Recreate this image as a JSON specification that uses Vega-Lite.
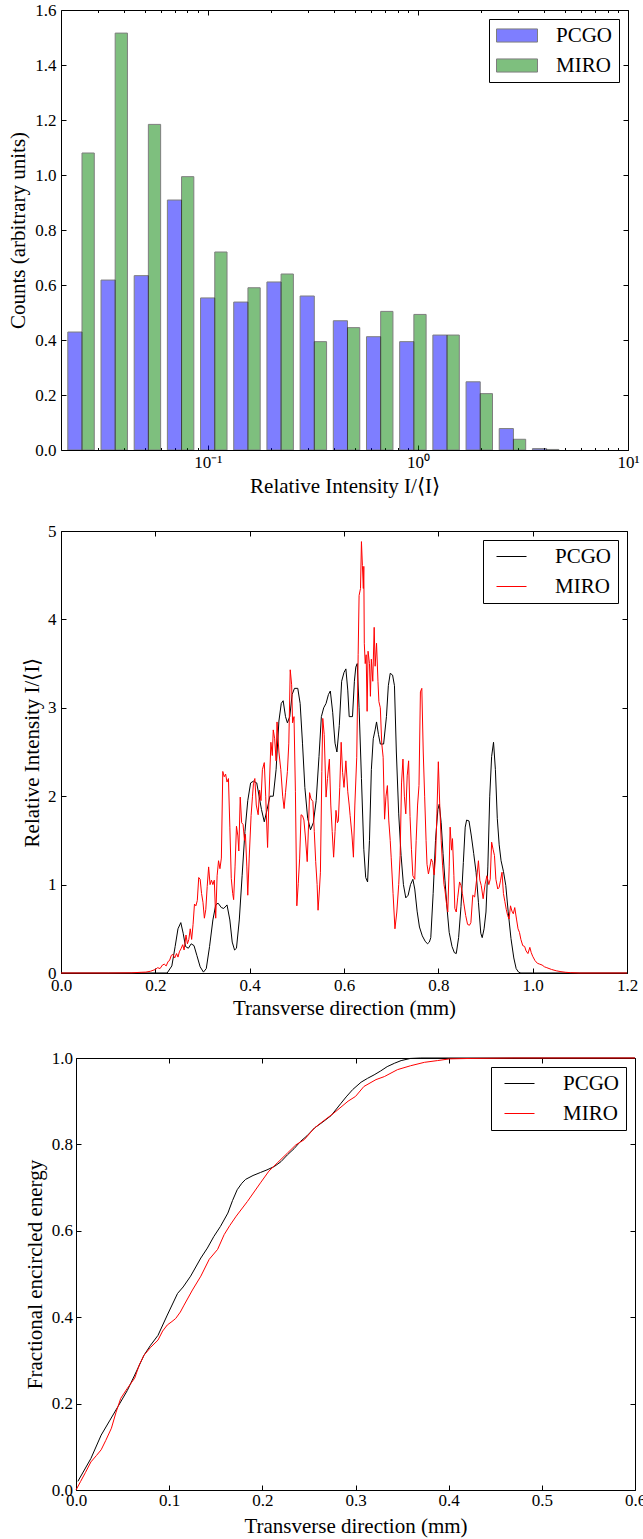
{
  "$schema": "https://vega.github.io/schema/vega-lite/v6.json",
  "padding": 0,
  "background": "white",
  "datasets": {
    "hist": [
      {"s":"PCGO","a":0.02155,"b":0.02518,"c":0.429},
      {"s":"PCGO","a":0.03101,"b":0.03622,"c":0.618},
      {"s":"PCGO","a":0.04461,"b":0.05211,"c":0.634},
      {"s":"PCGO","a":0.06418,"b":0.07497,"c":0.909},
      {"s":"PCGO","a":0.09233,"b":0.1079,"c":0.553},
      {"s":"PCGO","a":0.1328,"b":0.1552,"c":0.538},
      {"s":"PCGO","a":0.1911,"b":0.2232,"c":0.611},
      {"s":"PCGO","a":0.2750,"b":0.3212,"c":0.560},
      {"s":"PCGO","a":0.3956,"b":0.4621,"c":0.470},
      {"s":"PCGO","a":0.5691,"b":0.6648,"c":0.412},
      {"s":"PCGO","a":0.8188,"b":0.9565,"c":0.394},
      {"s":"PCGO","a":1.178,"b":1.376,"c":0.418},
      {"s":"PCGO","a":1.695,"b":1.980,"c":0.248},
      {"s":"PCGO","a":2.438,"b":2.848,"c":0.078},
      {"s":"PCGO","a":3.508,"b":4.098,"c":0.005},
      {"s":"MIRO","a":0.02518,"b":0.02880,"c":1.08},
      {"s":"MIRO","a":0.03622,"b":0.04143,"c":1.516},
      {"s":"MIRO","a":0.05211,"b":0.05961,"c":1.184},
      {"s":"MIRO","a":0.07497,"b":0.08576,"c":0.994},
      {"s":"MIRO","a":0.1079,"b":0.1234,"c":0.720},
      {"s":"MIRO","a":0.1552,"b":0.1775,"c":0.590},
      {"s":"MIRO","a":0.2232,"b":0.2554,"c":0.640},
      {"s":"MIRO","a":0.3212,"b":0.3674,"c":0.394},
      {"s":"MIRO","a":0.4621,"b":0.5286,"c":0.445},
      {"s":"MIRO","a":0.6648,"b":0.7605,"c":0.504},
      {"s":"MIRO","a":0.9565,"b":1.094,"c":0.493},
      {"s":"MIRO","a":1.376,"b":1.574,"c":0.418},
      {"s":"MIRO","a":1.980,"b":2.265,"c":0.205},
      {"s":"MIRO","a":2.848,"b":3.258,"c":0.039},
      {"s":"MIRO","a":4.098,"b":4.687,"c":0.002}
    ],
    "profile": [
      {"s":"PCGO","x":0,"v":0},{"s":"PCGO","x":0.1,"v":0},{"s":"PCGO","x":0.2,"v":0},{"s":"PCGO","x":0.225,"v":0},
      {"s":"PCGO","x":0.235,"v":0.08},{"s":"PCGO","x":0.242,"v":0.3},{"s":"PCGO","x":0.248,"v":0.5},{"s":"PCGO","x":0.254,"v":0.57},
      {"s":"PCGO","x":0.259,"v":0.45},{"s":"PCGO","x":0.264,"v":0.3},{"s":"PCGO","x":0.27,"v":0.28},{"s":"PCGO","x":0.276,"v":0.33},
      {"s":"PCGO","x":0.282,"v":0.31},{"s":"PCGO","x":0.288,"v":0.2},{"s":"PCGO","x":0.295,"v":0.07},{"s":"PCGO","x":0.302,"v":0.01},
      {"s":"PCGO","x":0.308,"v":0.05},{"s":"PCGO","x":0.315,"v":0.3},{"s":"PCGO","x":0.322,"v":0.6},{"s":"PCGO","x":0.328,"v":0.77},
      {"s":"PCGO","x":0.333,"v":0.79},{"s":"PCGO","x":0.34,"v":0.74},{"s":"PCGO","x":0.345,"v":0.73},{"s":"PCGO","x":0.352,"v":0.77},
      {"s":"PCGO","x":0.358,"v":0.6},{"s":"PCGO","x":0.363,"v":0.35},{"s":"PCGO","x":0.368,"v":0.26},{"s":"PCGO","x":0.372,"v":0.28},
      {"s":"PCGO","x":0.378,"v":0.6},{"s":"PCGO","x":0.384,"v":1.1},{"s":"PCGO","x":0.39,"v":1.6},{"s":"PCGO","x":0.396,"v":1.95},
      {"s":"PCGO","x":0.402,"v":2.15},{"s":"PCGO","x":0.408,"v":2.17},{"s":"PCGO","x":0.415,"v":2.15},{"s":"PCGO","x":0.42,"v":2.0},
      {"s":"PCGO","x":0.425,"v":1.85},{"s":"PCGO","x":0.431,"v":1.71},{"s":"PCGO","x":0.437,"v":1.85},{"s":"PCGO","x":0.443,"v":2.0},
      {"s":"PCGO","x":0.45,"v":2.0},{"s":"PCGO","x":0.456,"v":2.3},{"s":"PCGO","x":0.462,"v":2.85},{"s":"PCGO","x":0.467,"v":3.05},
      {"s":"PCGO","x":0.471,"v":3.08},{"s":"PCGO","x":0.476,"v":2.9},{"s":"PCGO","x":0.48,"v":2.83},{"s":"PCGO","x":0.485,"v":2.9},
      {"s":"PCGO","x":0.49,"v":3.15},{"s":"PCGO","x":0.495,"v":3.22},{"s":"PCGO","x":0.502,"v":3.22},{"s":"PCGO","x":0.507,"v":3.05},
      {"s":"PCGO","x":0.512,"v":2.6},{"s":"PCGO","x":0.517,"v":2.1},{"s":"PCGO","x":0.523,"v":1.75},{"s":"PCGO","x":0.529,"v":1.62},
      {"s":"PCGO","x":0.535,"v":1.7},{"s":"PCGO","x":0.541,"v":1.95},{"s":"PCGO","x":0.547,"v":2.45},{"s":"PCGO","x":0.552,"v":2.9},
      {"s":"PCGO","x":0.557,"v":3.0},{"s":"PCGO","x":0.562,"v":3.05},{"s":"PCGO","x":0.567,"v":3.15},{"s":"PCGO","x":0.571,"v":3.19},
      {"s":"PCGO","x":0.576,"v":2.95},{"s":"PCGO","x":0.581,"v":2.6},{"s":"PCGO","x":0.585,"v":2.5},{"s":"PCGO","x":0.59,"v":2.8},
      {"s":"PCGO","x":0.595,"v":3.3},{"s":"PCGO","x":0.6,"v":3.4},{"s":"PCGO","x":0.604,"v":3.44},{"s":"PCGO","x":0.608,"v":3.2},
      {"s":"PCGO","x":0.611,"v":2.9},{"s":"PCGO","x":0.618,"v":2.9},{"s":"PCGO","x":0.622,"v":3.3},{"s":"PCGO","x":0.625,"v":3.46},
      {"s":"PCGO","x":0.628,"v":3.5},{"s":"PCGO","x":0.632,"v":3.0},{"s":"PCGO","x":0.637,"v":2.2},{"s":"PCGO","x":0.642,"v":1.4},
      {"s":"PCGO","x":0.646,"v":1.08},{"s":"PCGO","x":0.65,"v":1.03},{"s":"PCGO","x":0.654,"v":1.5},{"s":"PCGO","x":0.658,"v":2.3},
      {"s":"PCGO","x":0.662,"v":2.65},{"s":"PCGO","x":0.666,"v":2.75},{"s":"PCGO","x":0.669,"v":2.84},{"s":"PCGO","x":0.673,"v":2.7},
      {"s":"PCGO","x":0.677,"v":2.59},{"s":"PCGO","x":0.684,"v":2.59},{"s":"PCGO","x":0.69,"v":2.9},{"s":"PCGO","x":0.694,"v":3.25},
      {"s":"PCGO","x":0.698,"v":3.39},{"s":"PCGO","x":0.703,"v":3.37},{"s":"PCGO","x":0.707,"v":3.25},{"s":"PCGO","x":0.711,"v":2.5},
      {"s":"PCGO","x":0.716,"v":1.8},{"s":"PCGO","x":0.721,"v":1.33},{"s":"PCGO","x":0.726,"v":1.0},{"s":"PCGO","x":0.731,"v":0.85},
      {"s":"PCGO","x":0.736,"v":0.88},{"s":"PCGO","x":0.741,"v":1.0},{"s":"PCGO","x":0.746,"v":1.06},{"s":"PCGO","x":0.75,"v":0.95},
      {"s":"PCGO","x":0.755,"v":0.7},{"s":"PCGO","x":0.76,"v":0.52},{"s":"PCGO","x":0.766,"v":0.42},{"s":"PCGO","x":0.772,"v":0.36},
      {"s":"PCGO","x":0.777,"v":0.33},{"s":"PCGO","x":0.781,"v":0.35},{"s":"PCGO","x":0.784,"v":0.4},{"s":"PCGO","x":0.789,"v":0.9},
      {"s":"PCGO","x":0.794,"v":1.5},{"s":"PCGO","x":0.799,"v":1.85},{"s":"PCGO","x":0.802,"v":1.91},{"s":"PCGO","x":0.806,"v":1.7},
      {"s":"PCGO","x":0.81,"v":1.35},{"s":"PCGO","x":0.814,"v":1.05},{"s":"PCGO","x":0.819,"v":0.7},{"s":"PCGO","x":0.823,"v":0.46},
      {"s":"PCGO","x":0.829,"v":0.3},{"s":"PCGO","x":0.834,"v":0.23},{"s":"PCGO","x":0.838,"v":0.22},{"s":"PCGO","x":0.843,"v":0.4},
      {"s":"PCGO","x":0.848,"v":0.75},{"s":"PCGO","x":0.853,"v":1.25},{"s":"PCGO","x":0.857,"v":1.65},{"s":"PCGO","x":0.86,"v":1.73},
      {"s":"PCGO","x":0.865,"v":1.72},{"s":"PCGO","x":0.87,"v":1.55},{"s":"PCGO","x":0.875,"v":1.35},{"s":"PCGO","x":0.88,"v":1.14},
      {"s":"PCGO","x":0.885,"v":0.8},{"s":"PCGO","x":0.89,"v":0.45},{"s":"PCGO","x":0.893,"v":0.4},{"s":"PCGO","x":0.897,"v":0.5},
      {"s":"PCGO","x":0.901,"v":0.69},{"s":"PCGO","x":0.905,"v":1.2},{"s":"PCGO","x":0.909,"v":2.0},{"s":"PCGO","x":0.913,"v":2.45},
      {"s":"PCGO","x":0.917,"v":2.61},{"s":"PCGO","x":0.921,"v":2.3},{"s":"PCGO","x":0.925,"v":1.75},{"s":"PCGO","x":0.929,"v":1.45},
      {"s":"PCGO","x":0.933,"v":1.27},{"s":"PCGO","x":0.938,"v":1.15},{"s":"PCGO","x":0.943,"v":0.99},{"s":"PCGO","x":0.948,"v":0.7},
      {"s":"PCGO","x":0.954,"v":0.39},{"s":"PCGO","x":0.96,"v":0.17},{"s":"PCGO","x":0.965,"v":0.05},{"s":"PCGO","x":0.97,"v":0.01},
      {"s":"PCGO","x":0.975,"v":0},{"s":"PCGO","x":1.0,"v":0},{"s":"PCGO","x":1.2,"v":0},
      {"s":"MIRO","x":0,"v":0},{"s":"MIRO","x":0.1,"v":0},{"s":"MIRO","x":0.15,"v":0.002},{"s":"MIRO","x":0.17,"v":0.008},
      {"s":"MIRO","x":0.18,"v":0.01},{"s":"MIRO","x":0.19,"v":0.02},{"s":"MIRO","x":0.2,"v":0.04},{"s":"MIRO","x":0.205,"v":0.06},
      {"s":"MIRO","x":0.21,"v":0.05},{"s":"MIRO","x":0.215,"v":0.09},{"s":"MIRO","x":0.219,"v":0.1},{"s":"MIRO","x":0.223,"v":0.08},
      {"s":"MIRO","x":0.227,"v":0.13},{"s":"MIRO","x":0.23,"v":0.14},{"s":"MIRO","x":0.234,"v":0.2},{"s":"MIRO","x":0.237,"v":0.21},
      {"s":"MIRO","x":0.241,"v":0.17},{"s":"MIRO","x":0.245,"v":0.22},{"s":"MIRO","x":0.248,"v":0.18},{"s":"MIRO","x":0.251,"v":0.24},
      {"s":"MIRO","x":0.255,"v":0.28},{"s":"MIRO","x":0.258,"v":0.32},{"s":"MIRO","x":0.261,"v":0.26},{"s":"MIRO","x":0.265,"v":0.43},
      {"s":"MIRO","x":0.268,"v":0.33},{"s":"MIRO","x":0.271,"v":0.38},{"s":"MIRO","x":0.274,"v":0.5},{"s":"MIRO","x":0.277,"v":0.38},
      {"s":"MIRO","x":0.28,"v":0.55},{"s":"MIRO","x":0.283,"v":0.78},{"s":"MIRO","x":0.286,"v":0.76},{"s":"MIRO","x":0.289,"v":0.82},
      {"s":"MIRO","x":0.292,"v":1.08},{"s":"MIRO","x":0.295,"v":1.06},{"s":"MIRO","x":0.298,"v":0.9},{"s":"MIRO","x":0.301,"v":0.8},
      {"s":"MIRO","x":0.304,"v":0.62},{"s":"MIRO","x":0.307,"v":0.72},{"s":"MIRO","x":0.31,"v":0.98},{"s":"MIRO","x":0.313,"v":1.2},
      {"s":"MIRO","x":0.316,"v":1.0},{"s":"MIRO","x":0.319,"v":1.05},{"s":"MIRO","x":0.322,"v":1.0},{"s":"MIRO","x":0.325,"v":1.05},
      {"s":"MIRO","x":0.328,"v":0.62},{"s":"MIRO","x":0.331,"v":1.1},{"s":"MIRO","x":0.334,"v":1.27},{"s":"MIRO","x":0.337,"v":1.18},
      {"s":"MIRO","x":0.34,"v":1.3},{"s":"MIRO","x":0.343,"v":2.28},{"s":"MIRO","x":0.346,"v":2.22},{"s":"MIRO","x":0.349,"v":2.25},
      {"s":"MIRO","x":0.352,"v":2.16},{"s":"MIRO","x":0.355,"v":2.2},{"s":"MIRO","x":0.358,"v":1.65},{"s":"MIRO","x":0.361,"v":1.07},
      {"s":"MIRO","x":0.364,"v":0.9},{"s":"MIRO","x":0.366,"v":0.83},{"s":"MIRO","x":0.369,"v":1.2},{"s":"MIRO","x":0.372,"v":1.66},
      {"s":"MIRO","x":0.375,"v":1.55},{"s":"MIRO","x":0.377,"v":1.38},{"s":"MIRO","x":0.38,"v":1.99},{"s":"MIRO","x":0.383,"v":1.7},
      {"s":"MIRO","x":0.386,"v":1.68},{"s":"MIRO","x":0.389,"v":1.5},{"s":"MIRO","x":0.391,"v":1.57},{"s":"MIRO","x":0.394,"v":1.2},
      {"s":"MIRO","x":0.396,"v":0.88},{"s":"MIRO","x":0.399,"v":1.3},{"s":"MIRO","x":0.403,"v":1.78},{"s":"MIRO","x":0.406,"v":2.0},
      {"s":"MIRO","x":0.408,"v":2.14},{"s":"MIRO","x":0.411,"v":2.2},{"s":"MIRO","x":0.414,"v":1.9},{"s":"MIRO","x":0.418,"v":1.79},
      {"s":"MIRO","x":0.421,"v":2.07},{"s":"MIRO","x":0.424,"v":1.95},{"s":"MIRO","x":0.427,"v":2.3},{"s":"MIRO","x":0.431,"v":2.38},
      {"s":"MIRO","x":0.434,"v":2.0},{"s":"MIRO","x":0.438,"v":1.42},{"s":"MIRO","x":0.441,"v":1.99},{"s":"MIRO","x":0.445,"v":2.61},
      {"s":"MIRO","x":0.448,"v":2.46},{"s":"MIRO","x":0.45,"v":2.75},{"s":"MIRO","x":0.453,"v":2.65},{"s":"MIRO","x":0.456,"v":2.4},
      {"s":"MIRO","x":0.458,"v":2.84},{"s":"MIRO","x":0.462,"v":2.5},{"s":"MIRO","x":0.466,"v":2.3},{"s":"MIRO","x":0.47,"v":2.0},
      {"s":"MIRO","x":0.473,"v":1.86},{"s":"MIRO","x":0.476,"v":2.04},{"s":"MIRO","x":0.48,"v":2.28},{"s":"MIRO","x":0.483,"v":2.6},
      {"s":"MIRO","x":0.486,"v":3.43},{"s":"MIRO","x":0.489,"v":3.26},{"s":"MIRO","x":0.491,"v":2.83},{"s":"MIRO","x":0.494,"v":2.9},
      {"s":"MIRO","x":0.497,"v":2.05},{"s":"MIRO","x":0.5,"v":0.76},{"s":"MIRO","x":0.503,"v":1.01},{"s":"MIRO","x":0.506,"v":1.3},
      {"s":"MIRO","x":0.509,"v":1.79},{"s":"MIRO","x":0.512,"v":1.78},{"s":"MIRO","x":0.515,"v":1.73},{"s":"MIRO","x":0.518,"v":1.55},
      {"s":"MIRO","x":0.522,"v":1.26},{"s":"MIRO","x":0.525,"v":1.7},{"s":"MIRO","x":0.527,"v":2.04},{"s":"MIRO","x":0.53,"v":1.97},
      {"s":"MIRO","x":0.534,"v":1.94},{"s":"MIRO","x":0.537,"v":1.6},{"s":"MIRO","x":0.54,"v":1.26},{"s":"MIRO","x":0.543,"v":1.0},
      {"s":"MIRO","x":0.545,"v":0.71},{"s":"MIRO","x":0.548,"v":0.95},{"s":"MIRO","x":0.55,"v":1.14},{"s":"MIRO","x":0.553,"v":2.28},
      {"s":"MIRO","x":0.555,"v":2.88},{"s":"MIRO","x":0.558,"v":2.7},{"s":"MIRO","x":0.562,"v":1.99},{"s":"MIRO","x":0.565,"v":2.2},
      {"s":"MIRO","x":0.569,"v":2.42},{"s":"MIRO","x":0.572,"v":1.9},{"s":"MIRO","x":0.575,"v":1.6},{"s":"MIRO","x":0.578,"v":1.31},
      {"s":"MIRO","x":0.581,"v":1.6},{"s":"MIRO","x":0.583,"v":1.84},{"s":"MIRO","x":0.586,"v":1.7},{"s":"MIRO","x":0.588,"v":1.72},
      {"s":"MIRO","x":0.591,"v":2.1},{"s":"MIRO","x":0.594,"v":2.61},{"s":"MIRO","x":0.597,"v":2.27},{"s":"MIRO","x":0.6,"v":2.1},
      {"s":"MIRO","x":0.604,"v":2.4},{"s":"MIRO","x":0.608,"v":2.05},{"s":"MIRO","x":0.611,"v":1.9},{"s":"MIRO","x":0.613,"v":1.78},
      {"s":"MIRO","x":0.617,"v":1.55},{"s":"MIRO","x":0.62,"v":1.31},{"s":"MIRO","x":0.623,"v":1.9},{"s":"MIRO","x":0.627,"v":2.44},
      {"s":"MIRO","x":0.63,"v":3.6},{"s":"MIRO","x":0.632,"v":4.27},{"s":"MIRO","x":0.635,"v":4.35},{"s":"MIRO","x":0.637,"v":4.88},
      {"s":"MIRO","x":0.639,"v":4.61},{"s":"MIRO","x":0.641,"v":4.35},{"s":"MIRO","x":0.642,"v":4.6},{"s":"MIRO","x":0.643,"v":3.73},
      {"s":"MIRO","x":0.645,"v":3.5},{"s":"MIRO","x":0.647,"v":3.6},{"s":"MIRO","x":0.649,"v":2.96},{"s":"MIRO","x":0.651,"v":3.64},
      {"s":"MIRO","x":0.654,"v":3.5},{"s":"MIRO","x":0.656,"v":3.13},{"s":"MIRO","x":0.658,"v":3.55},{"s":"MIRO","x":0.661,"v":3.3},
      {"s":"MIRO","x":0.664,"v":3.91},{"s":"MIRO","x":0.666,"v":3.47},{"s":"MIRO","x":0.669,"v":3.73},{"s":"MIRO","x":0.672,"v":3.3},
      {"s":"MIRO","x":0.674,"v":3.07},{"s":"MIRO","x":0.677,"v":3.0},{"s":"MIRO","x":0.68,"v":2.6},{"s":"MIRO","x":0.683,"v":2.44},
      {"s":"MIRO","x":0.686,"v":1.74},{"s":"MIRO","x":0.689,"v":2.0},{"s":"MIRO","x":0.692,"v":2.12},{"s":"MIRO","x":0.695,"v":1.72},
      {"s":"MIRO","x":0.698,"v":1.5},{"s":"MIRO","x":0.7,"v":1.31},{"s":"MIRO","x":0.704,"v":0.9},{"s":"MIRO","x":0.708,"v":0.5},
      {"s":"MIRO","x":0.712,"v":0.69},{"s":"MIRO","x":0.716,"v":1.0},{"s":"MIRO","x":0.719,"v":1.33},{"s":"MIRO","x":0.722,"v":2.15},
      {"s":"MIRO","x":0.725,"v":2.42},{"s":"MIRO","x":0.728,"v":2.0},{"s":"MIRO","x":0.731,"v":1.8},{"s":"MIRO","x":0.734,"v":2.23},
      {"s":"MIRO","x":0.737,"v":2.4},{"s":"MIRO","x":0.74,"v":1.77},{"s":"MIRO","x":0.743,"v":1.4},{"s":"MIRO","x":0.746,"v":1.1},
      {"s":"MIRO","x":0.75,"v":1.06},{"s":"MIRO","x":0.753,"v":1.5},{"s":"MIRO","x":0.756,"v":1.9},{"s":"MIRO","x":0.759,"v":2.12},
      {"s":"MIRO","x":0.762,"v":3.18},{"s":"MIRO","x":0.765,"v":3.22},{"s":"MIRO","x":0.768,"v":2.5},{"s":"MIRO","x":0.771,"v":2.0},
      {"s":"MIRO","x":0.774,"v":1.5},{"s":"MIRO","x":0.776,"v":1.23},{"s":"MIRO","x":0.779,"v":1.12},{"s":"MIRO","x":0.782,"v":1.2},
      {"s":"MIRO","x":0.785,"v":1.29},{"s":"MIRO","x":0.788,"v":1.25},{"s":"MIRO","x":0.791,"v":1.11},{"s":"MIRO","x":0.794,"v":1.3},
      {"s":"MIRO","x":0.797,"v":1.8},{"s":"MIRO","x":0.8,"v":2.39},{"s":"MIRO","x":0.803,"v":1.9},{"s":"MIRO","x":0.806,"v":1.5},
      {"s":"MIRO","x":0.809,"v":1.22},{"s":"MIRO","x":0.812,"v":1.0},{"s":"MIRO","x":0.814,"v":0.94},{"s":"MIRO","x":0.817,"v":0.8},
      {"s":"MIRO","x":0.82,"v":0.69},{"s":"MIRO","x":0.823,"v":1.2},{"s":"MIRO","x":0.825,"v":1.65},{"s":"MIRO","x":0.828,"v":1.39},
      {"s":"MIRO","x":0.83,"v":1.52},{"s":"MIRO","x":0.833,"v":1.1},{"s":"MIRO","x":0.835,"v":0.73},{"s":"MIRO","x":0.838,"v":0.69},
      {"s":"MIRO","x":0.841,"v":0.85},{"s":"MIRO","x":0.845,"v":1.03},{"s":"MIRO","x":0.848,"v":0.99},{"s":"MIRO","x":0.851,"v":0.9},
      {"s":"MIRO","x":0.854,"v":0.79},{"s":"MIRO","x":0.858,"v":0.65},{"s":"MIRO","x":0.862,"v":0.55},{"s":"MIRO","x":0.866,"v":0.54},
      {"s":"MIRO","x":0.869,"v":0.57},{"s":"MIRO","x":0.873,"v":0.88},{"s":"MIRO","x":0.877,"v":0.86},{"s":"MIRO","x":0.881,"v":1.05},
      {"s":"MIRO","x":0.885,"v":1.27},{"s":"MIRO","x":0.888,"v":1.05},{"s":"MIRO","x":0.891,"v":0.99},{"s":"MIRO","x":0.895,"v":0.84},
      {"s":"MIRO","x":0.899,"v":1.0},{"s":"MIRO","x":0.903,"v":1.1},{"s":"MIRO","x":0.907,"v":1.0},{"s":"MIRO","x":0.91,"v":1.06},
      {"s":"MIRO","x":0.913,"v":1.48},{"s":"MIRO","x":0.916,"v":1.4},{"s":"MIRO","x":0.919,"v":1.33},{"s":"MIRO","x":0.922,"v":1.06},
      {"s":"MIRO","x":0.926,"v":0.95},{"s":"MIRO","x":0.929,"v":0.97},{"s":"MIRO","x":0.932,"v":1.05},{"s":"MIRO","x":0.935,"v":1.14},
      {"s":"MIRO","x":0.938,"v":0.9},{"s":"MIRO","x":0.941,"v":0.81},{"s":"MIRO","x":0.944,"v":0.72},{"s":"MIRO","x":0.947,"v":0.65},
      {"s":"MIRO","x":0.95,"v":0.61},{"s":"MIRO","x":0.953,"v":0.76},{"s":"MIRO","x":0.956,"v":0.7},{"s":"MIRO","x":0.959,"v":0.67},
      {"s":"MIRO","x":0.962,"v":0.74},{"s":"MIRO","x":0.966,"v":0.6},{"s":"MIRO","x":0.969,"v":0.5},{"s":"MIRO","x":0.972,"v":0.46},
      {"s":"MIRO","x":0.975,"v":0.38},{"s":"MIRO","x":0.979,"v":0.31},{"s":"MIRO","x":0.983,"v":0.3},{"s":"MIRO","x":0.986,"v":0.25},
      {"s":"MIRO","x":0.99,"v":0.22},{"s":"MIRO","x":0.994,"v":0.29},{"s":"MIRO","x":0.997,"v":0.23},{"s":"MIRO","x":1.0,"v":0.19},
      {"s":"MIRO","x":1.005,"v":0.14},{"s":"MIRO","x":1.01,"v":0.11},{"s":"MIRO","x":1.015,"v":0.1},{"s":"MIRO","x":1.02,"v":0.09},
      {"s":"MIRO","x":1.025,"v":0.07},{"s":"MIRO","x":1.03,"v":0.06},{"s":"MIRO","x":1.04,"v":0.04},{"s":"MIRO","x":1.05,"v":0.025},
      {"s":"MIRO","x":1.06,"v":0.015},{"s":"MIRO","x":1.07,"v":0.008},{"s":"MIRO","x":1.08,"v":0.004},{"s":"MIRO","x":1.1,"v":0},
      {"s":"MIRO","x":1.2,"v":0}
    ],
    "ee": [
      {"s":"PCGO","x":0.002,"v":0.02},{"s":"PCGO","x":0.016,"v":0.073},{"s":"PCGO","x":0.027,"v":0.127},{"s":"PCGO","x":0.036,"v":0.16},
      {"s":"PCGO","x":0.045,"v":0.193},{"s":"PCGO","x":0.055,"v":0.23},{"s":"PCGO","x":0.063,"v":0.266},{"s":"PCGO","x":0.073,"v":0.312},
      {"s":"PCGO","x":0.08,"v":0.335},{"s":"PCGO","x":0.088,"v":0.358},{"s":"PCGO","x":0.098,"v":0.405},{"s":"PCGO","x":0.109,"v":0.455},
      {"s":"PCGO","x":0.115,"v":0.47},{"s":"PCGO","x":0.123,"v":0.495},{"s":"PCGO","x":0.134,"v":0.537},{"s":"PCGO","x":0.141,"v":0.56},
      {"s":"PCGO","x":0.148,"v":0.587},{"s":"PCGO","x":0.155,"v":0.61},{"s":"PCGO","x":0.163,"v":0.641},{"s":"PCGO","x":0.168,"v":0.67},
      {"s":"PCGO","x":0.173,"v":0.695},{"s":"PCGO","x":0.178,"v":0.71},{"s":"PCGO","x":0.182,"v":0.719},{"s":"PCGO","x":0.19,"v":0.728},
      {"s":"PCGO","x":0.198,"v":0.735},{"s":"PCGO","x":0.205,"v":0.741},{"s":"PCGO","x":0.213,"v":0.749},{"s":"PCGO","x":0.22,"v":0.76},
      {"s":"PCGO","x":0.227,"v":0.776},{"s":"PCGO","x":0.234,"v":0.79},{"s":"PCGO","x":0.241,"v":0.807},{"s":"PCGO","x":0.248,"v":0.82},
      {"s":"PCGO","x":0.256,"v":0.838},{"s":"PCGO","x":0.265,"v":0.852},{"s":"PCGO","x":0.274,"v":0.867},{"s":"PCGO","x":0.284,"v":0.894},
      {"s":"PCGO","x":0.29,"v":0.91},{"s":"PCGO","x":0.297,"v":0.927},{"s":"PCGO","x":0.306,"v":0.944},{"s":"PCGO","x":0.313,"v":0.953},
      {"s":"PCGO","x":0.32,"v":0.961},{"s":"PCGO","x":0.327,"v":0.97},{"s":"PCGO","x":0.334,"v":0.98},{"s":"PCGO","x":0.342,"v":0.988},
      {"s":"PCGO","x":0.349,"v":0.994},{"s":"PCGO","x":0.359,"v":0.999},{"s":"PCGO","x":0.37,"v":1.0},{"s":"PCGO","x":0.6,"v":1.0},
      {"s":"MIRO","x":0,"v":0},{"s":"MIRO","x":0.005,"v":0.02},{"s":"MIRO","x":0.01,"v":0.04},{"s":"MIRO","x":0.016,"v":0.065},
      {"s":"MIRO","x":0.022,"v":0.08},{"s":"MIRO","x":0.027,"v":0.093},{"s":"MIRO","x":0.032,"v":0.115},{"s":"MIRO","x":0.038,"v":0.143},
      {"s":"MIRO","x":0.043,"v":0.18},{"s":"MIRO","x":0.048,"v":0.212},{"s":"MIRO","x":0.055,"v":0.235},{"s":"MIRO","x":0.063,"v":0.259},
      {"s":"MIRO","x":0.068,"v":0.29},{"s":"MIRO","x":0.073,"v":0.312},{"s":"MIRO","x":0.08,"v":0.33},{"s":"MIRO","x":0.088,"v":0.347},
      {"s":"MIRO","x":0.093,"v":0.368},{"s":"MIRO","x":0.098,"v":0.382},{"s":"MIRO","x":0.103,"v":0.39},{"s":"MIRO","x":0.107,"v":0.397},
      {"s":"MIRO","x":0.112,"v":0.412},{"s":"MIRO","x":0.116,"v":0.428},{"s":"MIRO","x":0.125,"v":0.463},{"s":"MIRO","x":0.134,"v":0.495},
      {"s":"MIRO","x":0.143,"v":0.534},{"s":"MIRO","x":0.152,"v":0.557},{"s":"MIRO","x":0.159,"v":0.591},{"s":"MIRO","x":0.165,"v":0.612},
      {"s":"MIRO","x":0.172,"v":0.634},{"s":"MIRO","x":0.184,"v":0.668},{"s":"MIRO","x":0.198,"v":0.711},{"s":"MIRO","x":0.207,"v":0.738},
      {"s":"MIRO","x":0.216,"v":0.757},{"s":"MIRO","x":0.227,"v":0.78},{"s":"MIRO","x":0.236,"v":0.799},{"s":"MIRO","x":0.245,"v":0.811},
      {"s":"MIRO","x":0.256,"v":0.838},{"s":"MIRO","x":0.263,"v":0.85},{"s":"MIRO","x":0.277,"v":0.873},{"s":"MIRO","x":0.292,"v":0.9},
      {"s":"MIRO","x":0.3,"v":0.911},{"s":"MIRO","x":0.309,"v":0.934},{"s":"MIRO","x":0.322,"v":0.95},{"s":"MIRO","x":0.331,"v":0.957},
      {"s":"MIRO","x":0.345,"v":0.973},{"s":"MIRO","x":0.359,"v":0.982},{"s":"MIRO","x":0.374,"v":0.99},{"s":"MIRO","x":0.388,"v":0.994},
      {"s":"MIRO","x":0.401,"v":0.998},{"s":"MIRO","x":0.424,"v":0.999},{"s":"MIRO","x":0.47,"v":1.0},{"s":"MIRO","x":0.6,"v":1.0}
    ]
  },
  "spacing": 0,
  "resolve": {"scale": {"color": "independent"}, "legend": {"color": "independent"}},
  "vconcat": [
    {
      "spacing": 0,
      "resolve": {"scale": {"color": "independent"}, "legend": {"color": "independent"}},
      "hconcat": [
        {"width": 1, "height": 1, "view": {"stroke": null}, "data": {"values": []}, "mark": "point"},
        {
          "width": 567, "height": 440,
          "data": {"name": "hist"},
          "resolve": {"axis": {"x": "independent", "y": "independent"}},
          "layer": [
            {
              "mark": {"type": "rect", "opacity": 0.5, "stroke": "black", "strokeWidth": 1},
              "encoding": {
                "x": {"field": "a", "type": "quantitative", "scale": {"type": "log", "domain": [0.02, 10], "nice": false},
                      "axis": {"orient": "bottom", "values": [0.1, 1, 10], "labelExpr": "datum.value == 0.1 ? '10⁻¹' : datum.value == 1 ? '10⁰' : '10¹'",
                               "tickSize": -5, "labelPadding": 22.5, "labelBaseline": "alphabetic",
                               "title": "Relative Intensity I/⟨I⟩", "titleY": 42, "titleBaseline": "alphabetic", "minExtent": 50, "maxExtent": 50}},
                "x2": {"field": "b"},
                "y": {"field": "c", "type": "quantitative", "scale": {"domain": [0, 1.6], "nice": false},
                      "axis": {"orient": "left", "values": [0, 0.2, 0.4, 0.6, 0.8, 1.0, 1.2, 1.4, 1.6], "format": ".1f", "tickSize": -5, "labelPadding": 10,
                               "title": "Counts (arbitrary units)", "titleX": -37, "titleBaseline": "alphabetic", "minExtent": 59, "maxExtent": 59}},
                "y2": {"datum": 0},
                "color": {"field": "s", "type": "nominal", "scale": {"domain": ["PCGO", "MIRO"], "range": ["#0000ff", "#008000"]},
                          "legend": {"title": null, "symbolType": "M-1,-0.32H1V0.32H-1Z", "symbolSize": 1681, "symbolOpacity": 0.5,
                                     "symbolStrokeColor": "black", "symbolStrokeWidth": 1, "symbolOffset": 1, "labelOffset": 18}}
              }
            },
            {
              "mark": {"type": "point", "opacity": 0},
              "encoding": {
                "x": {"field": "a", "type": "quantitative",
                      "axis": {"orient": "bottom", "values": [0.03, 0.04, 0.05, 0.06, 0.07, 0.08, 0.09, 0.2, 0.3, 0.4, 0.5, 0.6, 0.7, 0.8, 0.9, 2, 3, 4, 5, 6, 7, 8, 9],
                               "labels": false, "tickSize": -2.5, "title": null, "minExtent": 0, "maxExtent": 0}},
                "y": {"field": "c", "type": "quantitative",
                      "axis": {"orient": "right", "values": [0, 0.2, 0.4, 0.6, 0.8, 1.0, 1.2, 1.4, 1.6], "labels": false, "tickSize": -5, "title": null, "minExtent": 0, "maxExtent": 0}}
              }
            },
            {
              "mark": {"type": "point", "opacity": 0},
              "encoding": {
                "x": {"field": "a", "type": "quantitative",
                      "axis": {"orient": "top", "values": [0.1, 1, 10], "labels": false, "tickSize": -5, "title": null, "minExtent": 9, "maxExtent": 9}},
                "y": {"field": "c", "type": "quantitative", "axis": null}
              }
            },
            {
              "mark": {"type": "point", "opacity": 0},
              "encoding": {
                "x": {"field": "a", "type": "quantitative",
                      "axis": {"orient": "top", "values": [0.03, 0.04, 0.05, 0.06, 0.07, 0.08, 0.09, 0.2, 0.3, 0.4, 0.5, 0.6, 0.7, 0.8, 0.9, 2, 3, 4, 5, 6, 7, 8, 9],
                               "labels": false, "tickSize": -2.5, "title": null, "minExtent": 0, "maxExtent": 0}},
                "y": {"field": "c", "type": "quantitative", "axis": null}
              }
            }
          ]
        }
      ]
    },
    {
      "spacing": 0,
      "resolve": {"scale": {"color": "independent"}, "legend": {"color": "independent"}},
      "hconcat": [
        {"width": 1, "height": 1, "view": {"stroke": null}, "data": {"values": []}, "mark": "point"},
        {
          "width": 566, "height": 442,
          "data": {"name": "profile"},
          "resolve": {"axis": {"x": "independent", "y": "independent"}},
          "layer": [
            {
              "mark": {"type": "line", "strokeWidth": 1},
              "encoding": {
                "x": {"field": "x", "type": "quantitative", "scale": {"domain": [0, 1.2], "nice": false, "zero": false},
                      "axis": {"orient": "bottom", "values": [0, 0.2, 0.4, 0.6, 0.8, 1.0, 1.2], "format": ".1f", "tickSize": -5, "labelPadding": 22, "labelBaseline": "alphabetic",
                               "title": "Transverse direction (mm)", "titleY": 41, "titleBaseline": "alphabetic", "minExtent": 50, "maxExtent": 50}},
                "y": {"field": "v", "type": "quantitative", "scale": {"domain": [0, 5], "nice": false},
                      "axis": {"orient": "left", "values": [0, 1, 2, 3, 4, 5], "format": "d", "tickSize": -5, "labelPadding": 10,
                               "title": "Relative Intensity I/⟨I⟩", "titleX": -23, "titleBaseline": "alphabetic", "minExtent": 59, "maxExtent": 59}},
                "color": {"field": "s", "type": "nominal", "scale": {"domain": ["PCGO", "MIRO"], "range": ["black", "red"]},
                          "legend": {"title": null, "symbolType": "stroke", "symbolSize": 900, "symbolStrokeWidth": 1, "symbolOffset": 7, "labelOffset": 28}}
              }
            },
            {
              "mark": {"type": "point", "opacity": 0},
              "encoding": {
                "x": {"field": "x", "type": "quantitative",
                      "axis": {"orient": "top", "values": [0, 0.2, 0.4, 0.6, 0.8, 1.0, 1.2], "labels": false, "tickSize": -5, "title": null, "minExtent": 29, "maxExtent": 29}},
                "y": {"field": "v", "type": "quantitative",
                      "axis": {"orient": "right", "values": [0, 1, 2, 3, 4, 5], "labels": false, "tickSize": -5, "title": null, "minExtent": 0, "maxExtent": 0}}
              }
            }
          ]
        }
      ]
    },
    {
      "spacing": 0,
      "resolve": {"scale": {"color": "independent"}, "legend": {"color": "independent"}},
      "hconcat": [
        {"width": 1, "height": 1, "view": {"stroke": null}, "data": {"values": []}, "mark": "point"},
        {
          "width": 559, "height": 432,
          "data": {"name": "ee"},
          "resolve": {"axis": {"x": "independent", "y": "independent"}},
          "layer": [
            {
              "mark": {"type": "line", "strokeWidth": 1},
              "encoding": {
                "x": {"field": "x", "type": "quantitative", "scale": {"domain": [0, 0.6], "nice": false, "zero": false},
                      "axis": {"orient": "bottom", "values": [0, 0.1, 0.2, 0.3, 0.4, 0.5, 0.6], "format": ".1f", "tickSize": -5, "labelPadding": 20, "labelBaseline": "alphabetic",
                               "title": "Transverse direction (mm)", "titleY": 42, "titleBaseline": "alphabetic", "minExtent": 48, "maxExtent": 48}},
                "y": {"field": "v", "type": "quantitative", "scale": {"domain": [0, 1], "nice": false},
                      "axis": {"orient": "left", "values": [0, 0.2, 0.4, 0.6, 0.8, 1.0], "format": ".1f", "tickSize": -5, "labelPadding": 8.5,
                               "title": "Fractional encircled energy", "titleX": -35, "titleBaseline": "alphabetic", "minExtent": 74, "maxExtent": 74}},
                "color": {"field": "s", "type": "nominal", "scale": {"domain": ["PCGO", "MIRO"], "range": ["black", "red"]},
                          "legend": {"title": null, "symbolType": "stroke", "symbolSize": 900, "symbolStrokeWidth": 1, "symbolOffset": 7, "labelOffset": 28}}
              }
            },
            {
              "mark": {"type": "point", "opacity": 0},
              "encoding": {
                "x": {"field": "x", "type": "quantitative",
                      "axis": {"orient": "top", "values": [0, 0.1, 0.2, 0.3, 0.4, 0.5, 0.6], "labels": false, "tickSize": -5, "title": null, "minExtent": 33, "maxExtent": 33}},
                "y": {"field": "v", "type": "quantitative",
                      "axis": {"orient": "right", "values": [0, 0.2, 0.4, 0.6, 0.8, 1.0], "labels": false, "tickSize": -5, "title": null, "minExtent": 0, "maxExtent": 0}}
              }
            }
          ]
        }
      ]
    }
  ],
  "config": {
    "font": "Liberation Serif",
    "view": {"stroke": "black", "strokeWidth": 1},
    "axis": {"domain": false, "grid": false, "tickColor": "black", "tickWidth": 1, "labelColor": "black", "titleColor": "black",
             "labelFont": "Liberation Serif", "titleFont": "Liberation Serif", "labelFontSize": 17, "titleFontSize": 21, "titleFontWeight": "normal",
             "labelFlush": false, "labelOverlap": false, "zindex": 1},
    "legend": {"orient": "top-right", "offset": 9, "padding": 6, "strokeColor": "black", "fillColor": "white", "cornerRadius": 0,
               "labelFont": "Liberation Serif", "labelFontSize": 21, "labelColor": "black", "rowPadding": 8, "clipHeight": 21, "labelLimit": 300}
  }
}
